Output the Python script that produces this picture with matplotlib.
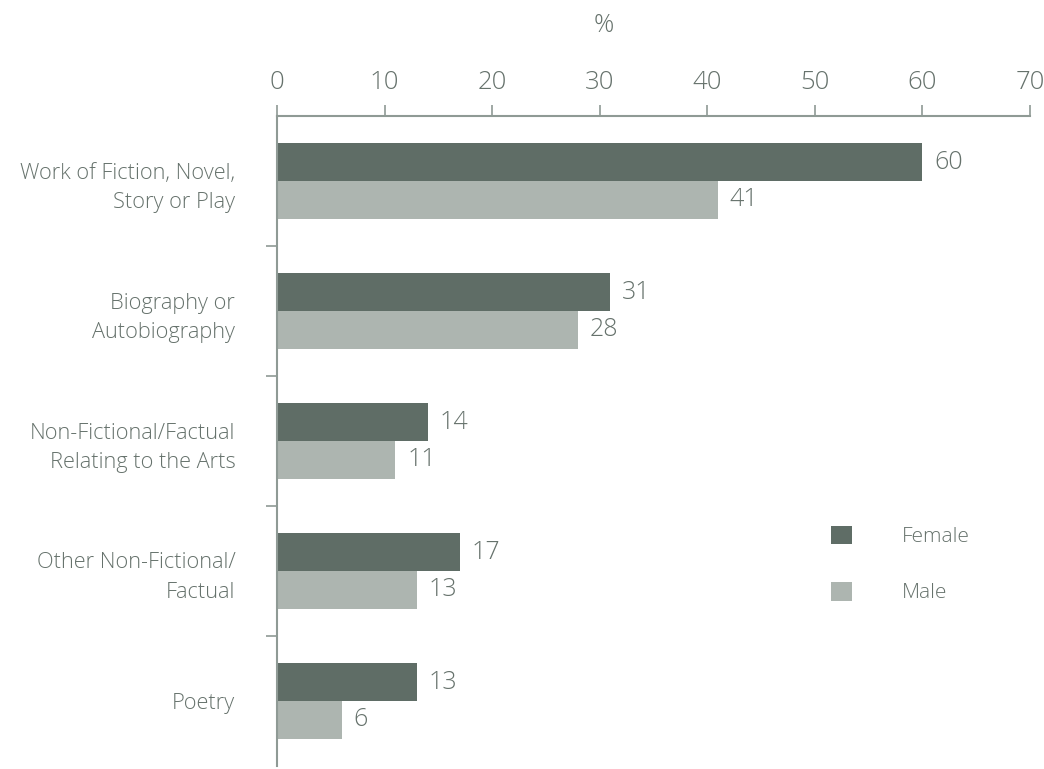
import numpy as np
import matplotlib.pyplot as plt
from matplotlib.patches import Patch
from matplotlib.ticker import FixedLocator

plt.rcParams['font.family'] = ['Open Sans', 'DejaVu Sans']
plt.rcParams['font.weight'] = 'light'

# Tipos de libro y porcentajes por sexo
categorias = ['Work of Fiction, Novel,\nStory or Play',
              'Biography or\nAutobiography',
              'Non-Fictional/Factual\nRelating to the Arts',
              'Other Non-Fictional/\nFactual',
              'Poetry']
mujeres = [60, 31, 14, 17, 13]
hombres = [41, 28, 11, 13, 6]
ticks_x = [0, 10, 20, 30, 40, 50, 60, 70]

col_mujer = '#5f6d66'
col_hombre = '#adb5b0'
col_texto = '#66726c'
col_eje = '#8f9a95'

fig = plt.figure(figsize=(10.44, 7.69), dpi=100)
ax = fig.add_axes([0.2653, 0.004, 0.7213, 0.845])

y = np.arange(len(categorias))
alto = 0.29
ax.barh(y - alto / 2, mujeres, height=alto, color=col_mujer)
ax.barh(y + alto / 2, hombres, height=alto, color=col_hombre)

for yi, m, h in zip(y, mujeres, hombres):
    ax.text(m + 1.1, yi - alto / 2, str(m), va='center', ha='left',
            fontsize=18, color=col_texto)
    ax.text(h + 1.1, yi + alto / 2, str(h), va='center', ha='left',
            fontsize=18, color=col_texto)

ax.set_xlim(0, 70)
ax.set_ylim(len(categorias) - 0.5, -0.5)

# Eje X arriba
ax.xaxis.tick_top()
ax.set_xticks(ticks_x)
ax.tick_params(axis='x', direction='out', length=8, width=1.2, color=col_eje,
               labelsize=18.5, labelcolor=col_texto, pad=7)

# Etiquetas de categoría en el centro, marcas entre grupos
ax.set_yticks(y)
ax.set_yticklabels(categorias, fontsize=15.7, color=col_texto, linespacing=1.55)
ax.tick_params(axis='y', which='major', length=0, pad=30)
ax.yaxis.set_minor_locator(FixedLocator(np.arange(0.5, len(categorias) - 1, 1)))
ax.tick_params(axis='y', which='minor', direction='out', length=8, width=1.2,
               color=col_eje)

for lado in ['right', 'bottom']:
    ax.spines[lado].set_visible(False)
for lado in ['top', 'left']:
    ax.spines[lado].set_color(col_eje)
    ax.spines[lado].set_linewidth(1.5)

fig.text(604 / 1044, 1 - 25 / 769, '%', ha='center', va='center',
         fontsize=18, color=col_texto)

leyenda = [Patch(facecolor=col_mujer, label='Female'),
           Patch(facecolor=col_hombre, label='Male')]
ax.legend(handles=leyenda, loc='center left',
          bbox_to_anchor=((821 - 277) / 753, 0.31),
          frameon=False, fontsize=15, labelcolor=col_texto,
          handlelength=1.0, handleheight=1.0, handletextpad=2.4,
          labelspacing=1.68, borderpad=0)

fig.savefig('out.png', dpi=100)
